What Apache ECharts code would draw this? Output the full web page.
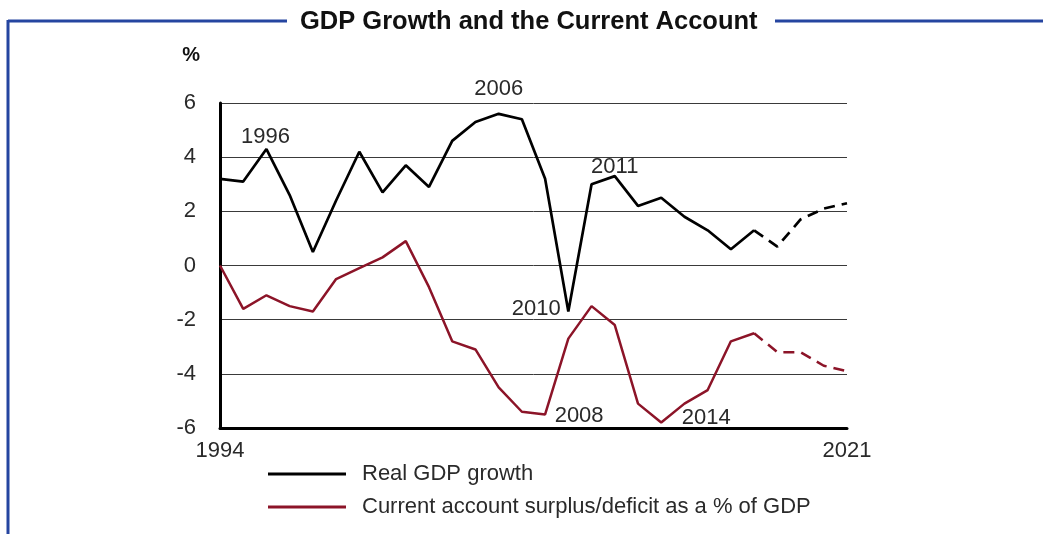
<!DOCTYPE html>
<html><head><meta charset="utf-8">
<script src="https://cdn.jsdelivr.net/npm/echarts@6/dist/echarts.min.js"></script>
<style>html,body{margin:0;padding:0;background:#fff}#c{width:1043px;height:534px}</style>
</head><body><div id="c"></div>
<script>
const years = ['1994','1995','1996','1997','1998','1999','2000','2001','2002','2003','2004','2005','2006','2007','2008','2009','2010','2011','2012','2013','2014','2015','2016','2017','2018','2019','2020','2021'];
const gdpGrowth = [3.2,3.1,4.3,2.6,0.5,2.4,4.2,2.7,3.7,2.9,4.6,5.3,5.6,5.4,3.2,-1.7,3.0,3.3,2.2,2.5,1.8,1.3,0.6,1.3,0.7,1.7,2.1,2.3];
const currentAccount = [0.0,-1.6,-1.1,-1.5,-1.7,-0.5,-0.1,0.3,0.9,-0.8,-2.8,-3.1,-4.5,-5.4,-5.5,-2.7,-1.5,-2.2,-5.1,-5.8,-5.1,-4.6,-2.8,-2.5,-3.2,-3.2,-3.7,-3.9];
const forecastFrom = '2017';
const yTicks = [-6,-4,-2,0,2,4,6];
const xTickLabels = ['1994','2021'];
const annotations = [
  {series:'gdp', year:'1996', text:'1996'},
  {series:'gdp', year:'2006', text:'2006'},
  {series:'gdp', year:'2011', text:'2011'},
  {series:'gdp', year:'2009', text:'2010'},
  {series:'ca', year:'2008', text:'2008'},
  {series:'ca', year:'2013', text:'2014'}
];
const labelOffsets = {'1996':[-1,-12],'2006':[0,-25],'2011':[0,-9],'2010':[-32,-3],'2008':[34,1],'2014':[45,-5]};

const fi = years.indexOf(forecastFrom);
const solid = arr => arr.map((v,i)=> i<=fi ? v : null);
const dashed = arr => arr.map((v,i)=> i>=fi ? v : null);
const BLACK = '#000000', RED = '#8c1428';
const FONT = 'Liberation Sans';
const TXT = '#2a2a2a';

function marks(key, arr){
  return annotations.filter(a=>a.series===key).map(a=>{
    const i = years.indexOf(a.year);
    return {coord:[a.year, arr[i]], value:a.text,
      label:{show:true, formatter:a.text, position:'inside', offset:labelOffsets[a.text], align:'center', verticalAlign:'middle',
        color:TXT, fontFamily:FONT, fontSize:22}};
  });
}

const chart = echarts.init(document.getElementById('c'), null, {renderer:'canvas'});
chart.setOption({
  animation:false,
  backgroundColor:'#fff',
  grid:{left:220, right:196, top:103, bottom:106, containLabel:false},
  xAxis:{type:'category', data:years, boundaryGap:false,
    axisLine:{show:true, onZero:false, lineStyle:{color:'#000', width:3}},
    axisTick:{show:false},
    axisLabel:{interval:0, formatter:v=> xTickLabels.includes(v)?v:'', color:TXT, fontFamily:FONT, fontSize:22, margin:12, showMaxLabel:true, showMinLabel:true, align:'center'},
    splitLine:{show:false}},
  yAxis:{type:'value', min:-6, max:6, interval:2,
    axisLine:{show:true, onZero:false, lineStyle:{color:'#000', width:3}},
    axisTick:{show:false},
    axisLabel:{color:TXT, fontFamily:FONT, fontSize:22, margin:24, formatter:v=> yTicks.includes(v)? String(v):''},
    splitLine:{show:true, lineStyle:{color:'#3a3a3a', width:1}},
    name:'%', nameLocation:'end', nameGap:38,
    nameTextStyle:{color:'#111', fontFamily:FONT, fontSize:20, fontWeight:'bold', align:'right', padding:[0,20,0,0]}},
  legend:{show:true, orient:'vertical', left:263, top:458, itemWidth:78, itemHeight:3, itemGap:11,
    icon:'rect', data:['Real GDP growth','Current account surplus/deficit as a % of GDP'],
    textStyle:{color:TXT, fontFamily:FONT, fontSize:22, padding:[0,0,0,11]}},
  series:[
    {name:'Real GDP growth', type:'line', data:solid(gdpGrowth), showSymbol:false, symbol:'none',
      lineStyle:{color:BLACK, width:2.7}, itemStyle:{color:BLACK}, z:3,
      markPoint:{symbol:'circle', symbolSize:0, data:marks('gdp', gdpGrowth)}},
    {name:'gdpF', type:'line', data:dashed(gdpGrowth), showSymbol:false, symbol:'none',
      lineStyle:{color:BLACK, width:2.7, type:[11,7]}, z:3},
    {name:'Current account surplus/deficit as a % of GDP', type:'line', data:solid(currentAccount), showSymbol:false, symbol:'none',
      lineStyle:{color:RED, width:2.5}, itemStyle:{color:RED}, z:3,
      markPoint:{symbol:'circle', symbolSize:0, data:marks('ca', currentAccount)}},
    {name:'caF', type:'line', data:dashed(currentAccount), showSymbol:false, symbol:'none',
      lineStyle:{color:RED, width:2.5, type:[11,7]}, z:3}
  ],
  graphic:[
    {type:'line', shape:{x1:8, y1:21, x2:287, y2:21}, style:{stroke:'#2545a0', lineWidth:3}},
    {type:'line', shape:{x1:775, y1:21, x2:1043, y2:21}, style:{stroke:'#2545a0', lineWidth:3}},
    {type:'line', shape:{x1:8, y1:20, x2:8, y2:534}, style:{stroke:'#2545a0', lineWidth:3}},
    {type:'text', left:300, top:9, style:{text:'GDP Growth and the Current Account', fill:'#111', font:'bold 25.5px "Liberation Sans"'}}
  ]
});
</script></body></html>
